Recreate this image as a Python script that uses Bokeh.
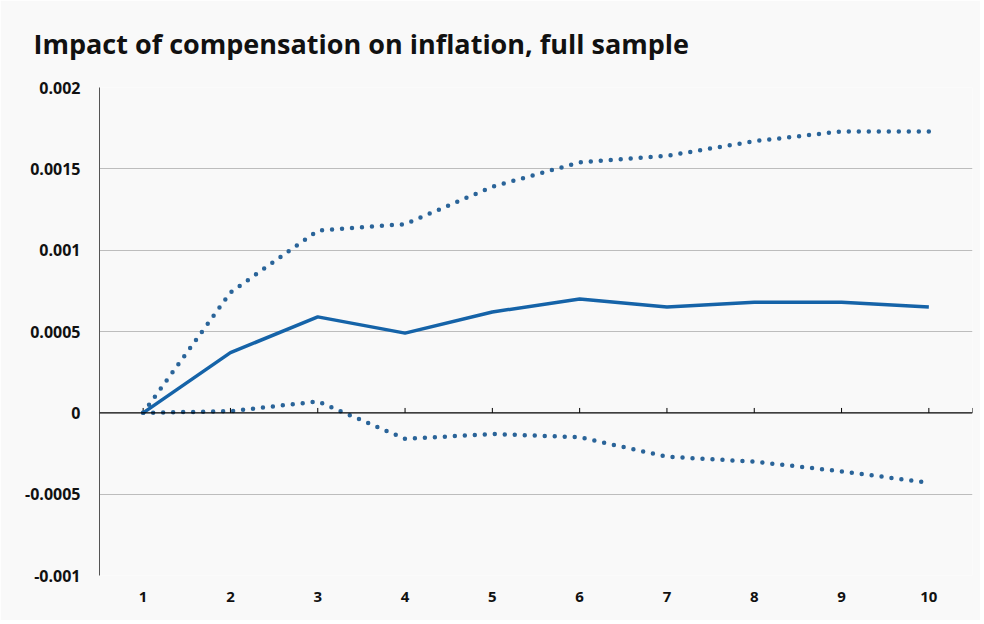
from bokeh.plotting import figure
from bokeh.models import Span, FixedTicker, Range1d
from bokeh.embed import file_html
from bokeh.resources import INLINE

periods = [1, 2, 3, 4, 5, 6, 7, 8, 9, 10]
impact = [0.0, 0.00037, 0.00059, 0.00049, 0.00062, 0.00070, 0.00065, 0.00068, 0.00068, 0.00065]
upper = [0.0, 0.00074, 0.00112, 0.00116, 0.00139, 0.00154, 0.00158, 0.00167, 0.00173, 0.00173]
lower = [0.0, 0.00001, 0.00007, -0.00016, -0.00013, -0.00015, -0.00027, -0.00030, -0.00036, -0.00043]
y_ticks = [-0.001, -0.0005, 0, 0.0005, 0.001, 0.0015, 0.002]
y_labels = {-0.001: "-0.001", -0.0005: "-0.0005", 0: "0", 0.0005: "0.0005",
            0.001: "0.001", 0.0015: "0.0015", 0.002: "0.002"}

BG = "#f9f9f9"
p = figure(width=980, height=620, output_backend="svg", toolbar_location=None,
           x_range=Range1d(0.5, 10.5), y_range=Range1d(-0.001, 0.002),
           title="Impact of compensation on inflation, full sample",
           min_border_left=99, min_border_right=8, min_border_bottom=45, min_border_top=30)
p.background_fill_color = BG
p.border_fill_color = BG
p.outline_line_color = None

p.title.text_font = "Open Sans"
p.title.text_font_style = "bold"
p.title.text_font_size = "27px"
p.title.text_color = "#111111"
p.title.offset = -66
p.title.standoff = 48
p.title.vertical_align = "top"

# axes
p.xaxis.ticker = FixedTicker(ticks=periods)
p.xaxis.axis_line_color = None
p.xaxis.major_tick_line_color = None
p.xaxis.minor_tick_line_color = None
p.xaxis.major_label_standoff = 10
p.xaxis.major_label_text_font = "Open Sans"
p.xaxis.major_label_text_font_style = "bold"
p.xaxis.major_label_text_font_size = "15px"
p.xaxis.major_label_text_color = "#111111"

p.yaxis.ticker = FixedTicker(ticks=y_ticks)
p.yaxis.major_label_overrides = y_labels
p.yaxis.axis_line_color = "#555555"
p.yaxis.major_tick_line_color = None
p.yaxis.minor_tick_line_color = None
p.yaxis.major_label_standoff = 13
p.yaxis.major_label_text_font = "Open Sans"
p.yaxis.major_label_text_font_style = "bold"
p.yaxis.major_label_text_font_size = "16px"
p.yaxis.major_label_text_color = "#111111"

p.xgrid.grid_line_color = None
p.ygrid.ticker = FixedTicker(ticks=[t for t in y_ticks if t != 0])
p.ygrid.grid_line_color = "#bdbdbd"
p.ygrid.grid_line_width = 1

# zero line with small upward ticks
p.add_layout(Span(location=0, dimension="width", line_color="#000000", line_width=1.3))
tick_x = periods + [10.5]
p.segment(x0=tick_x, y0=[0] * len(tick_x), x1=tick_x, y1=[0.00003] * len(tick_x),
          line_color="#000000", line_width=1)

p.line(periods, upper, line_color="#2a6499", line_width=4.5, line_dash="0 10", line_cap="round")
p.line(periods, lower, line_color="#2a6499", line_width=4.5, line_dash="0 10", line_cap="round")
p.line(periods, impact, line_color="#1563a8", line_width=3.5)

open("out.html", "w").write(file_html(p, INLINE))
